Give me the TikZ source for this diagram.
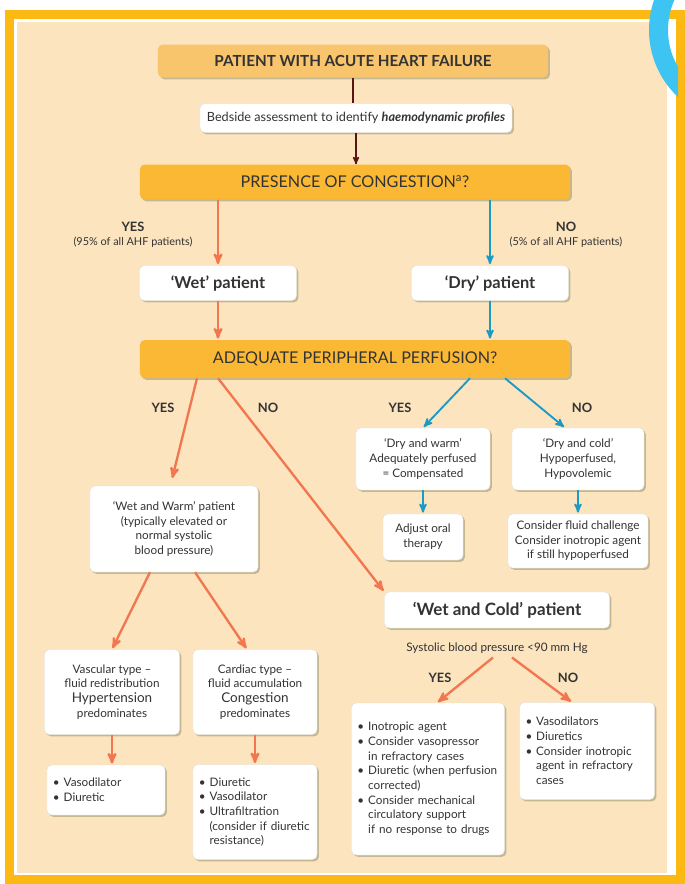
\documentclass[tikz,border=0pt]{standalone}
\usepackage{fontspec}
\setmainfont{Lato}
\usetikzlibrary{arrows,shadows,calc}

\definecolor{frameyellow}{HTML}{FDB913}
\definecolor{peach}{HTML}{FCE4BF}
\definecolor{headfill}{HTML}{F8C46C}
\definecolor{askfill}{HTML}{FBB834}
\definecolor{wetred}{HTML}{F2774F}
\definecolor{dryblue}{HTML}{1B9AC6}
\definecolor{darkline}{HTML}{5B1414}
\definecolor{txt}{HTML}{333333}
\definecolor{arcblue}{HTML}{3EC4F2}

\newcommand{\bul}{\textbullet\ }
\newcommand{\cnt}{\hphantom{\textbullet\ }}

\begin{document}
\begin{tikzpicture}[x=0.03cm,y=-0.03cm,>=stealth',
  every node/.style={text=txt,font=\fontsize{10}{12.5}\selectfont},
  box/.style={rounded corners=4pt,align=center,inner sep=2pt,
    drop shadow={shadow xshift=1.6pt,shadow yshift=-1.6pt,opacity=.5,fill=gray!70!olive}},
  head node/.style={box,fill=headfill,font=\bfseries\fontsize{13}{15}\selectfont},
  ask node/.style={box,fill=askfill,font=\fontsize{13.8}{16}\selectfont},
  info node/.style={box,fill=white,draw=black!12,line width=.4pt},
  patient node/.style={info node,font=\bfseries\fontsize{14}{16}\selectfont},
  list node/.style={info node,align=left,inner xsep=0.18cm},
  lbl/.style={align=center,font=\bfseries\fontsize{11}{13}\selectfont},
  sub lbl/.style={align=center,font=\fontsize{9.3}{12}\selectfont},
  wet line/.style={->,wetred,line width=2pt,shorten >=1pt},
  dry line/.style={->,dryblue,line width=1.6pt,shorten >=1pt},
  dark line/.style={darkline,line width=1.2pt}]

  % frame
  \fill[white] (0,0) rectangle (678,884);
  \draw[frameyellow,line width=0.27cm] (9.5,14.5) rectangle (680,879.5);
  \fill[peach] (17,22) rectangle (667,873);
  \begin{scope}
    \clip (0,0) rectangle (678,884);
    \draw[arcblue,line width=0.57cm] (741,30) circle[radius=82.5];
  \end{scope}
  \useasboundingbox (0,0) rectangle (678,884);

  \node[head node,minimum width=11.7cm,minimum height=0.99cm] (heart) at (353,61) {PATIENT WITH ACUTE HEART FAILURE};
  \node[info node,minimum width=9.36cm,minimum height=0.87cm,font=\fontsize{10.8}{12.5}\selectfont] (bedside) at (356,118)
    {Bedside assessment to identify \textbf{\textit{haemodynamic profiles}}};
  \node[ask node,minimum width=12.9cm,minimum height=1.05cm] (congestion) at (355,182) {PRESENCE OF CONGESTION\textsuperscript{a}?};

  \node[lbl] (yescong) at (133,227) {YES};
  \node[sub lbl] (yespct) at (133,242) {(95\% of all AHF patients)};
  \node[lbl] (nocong) at (566,227) {NO};
  \node[sub lbl] (nopct) at (566,242) {(5\% of all AHF patients)};

  \node[patient node,minimum width=4.71cm,minimum height=1.05cm] (wet) at (218,283) {‘Wet’ patient};
  \node[patient node,minimum width=4.71cm,minimum height=1.05cm] (dry) at (490,283) {‘Dry’ patient};
  \node[ask node,minimum width=12.9cm,minimum height=1.14cm] (perfusion) at (355,359) {ADEQUATE PERIPHERAL PERFUSION?};

  \node[lbl] (yeswarm) at (163,408) {YES};
  \node[lbl] (nowarm) at (268,408) {NO};
  \node[lbl] (yesdry) at (400,408) {YES};
  \node[lbl] (nodry) at (582,408) {NO};

  \node[info node,minimum width=4.02cm,minimum height=1.86cm] (drywarm) at (423,459)
    {‘Dry and warm’\\Adequately perfused\\= Compensated};
  \node[info node,minimum width=3.96cm,minimum height=1.86cm] (drycold) at (578,459)
    {‘Dry and cold’\\Hypoperfused,\\Hypovolemic};
  \node[info node,minimum width=2.4cm,minimum height=1.38cm] (oral) at (423,537) {Adjust oral\\therapy};
  \node[info node,minimum width=4.2cm,minimum height=1.62cm] (fluid) at (578,541)
    {Consider fluid challenge\\Consider inotropic agent\\if still hypoperfused};

  \node[info node,minimum width=5.04cm,minimum height=2.58cm] (wetwarm) at (174,529)
    {‘Wet and Warm’ patient\\(typically elevated or\\normal systolic\\blood pressure)};
  \node[info node,minimum width=4.05cm,minimum height=2.55cm] (vascular) at (112,692)
    {Vascular type --\\fluid redistribution\\{\fontsize{11.5}{13}\selectfont Hypertension}\\predominates};
  \node[info node,minimum width=3.72cm,minimum height=2.55cm] (cardiac) at (255,692)
    {Cardiac type --\\fluid accumulation\\{\fontsize{11.5}{13}\selectfont Congestion}\\predominates};
  \node[list node,text width=3.18cm,minimum height=1.5cm] (vascrx) at (106,790)
    {\bul Vasodilator\\\bul Diuretic};
  \node[list node,text width=3.36cm,minimum height=2.85cm] (cardrx) at (255,812)
    {\bul Diuretic\\\bul Vasodilator\\\bul Ultrafiltration\\\cnt(consider if diuretic\\\cnt resistance)};

  \node[patient node,minimum width=6.75cm,minimum height=1.08cm,font=\bfseries\fontsize{14.5}{16}\selectfont] (wetcold) at (497,610)
    {‘Wet and Cold’ patient};
  \node (sbp) at (497,648) {Systolic blood pressure <90 mm Hg};
  \node[lbl] (yescold) at (440,678) {YES};
  \node[lbl] (nocold) at (568,678) {NO};
  \node[list node,text width=4.23cm,minimum height=4.56cm] (coldyes) at (428,779)
    {\bul Inotropic agent\\\bul Consider vasopressor\\\cnt in refractory cases\\\bul Diuretic (when perfusion\\\cnt corrected)\\\bul Consider mechanical\\\cnt circulatory support\\\cnt if no response to drugs};
  \node[list node,text width=3.69cm,minimum height=2.91cm] (coldno) at (587,751)
    {\bul Vasodilators\\\bul Diuretics\\\bul Consider inotropic\\\cnt agent in refractory\\\cnt cases};

  \draw[dark line] (heart.south) -- (heart.south |- bedside.north);
  \draw[dark line,->] (bedside.south) -- (bedside.south |- congestion.north);

  \path[wet line] (congestion.south -| wet.north) edge (wet.north)
    (wet.south) edge (wet.south |- perfusion.north)
    ([xshift=-4.74cm]perfusion.south) edge ([xshift=-0.06cm,yshift=0.2cm]wetwarm.north)
    ([xshift=-4.11cm]perfusion.south) edge (wetcold.north west)
    ([xshift=-0.72cm]wetwarm.south) edge (vascular.north)
    ([xshift=0.63cm]wetwarm.south) edge ([xshift=-0.24cm]cardiac.north)
    (vascular.south) edge (vascular.south |- vascrx.north)
    (cardiac.south) edge (cardiac.south |- cardrx.north)
    ([xshift=-0.12cm]sbp.south) edge ([xshift=0.27cm]coldyes.north)
    ([xshift=0.45cm]sbp.south) edge ([xshift=-0.45cm]coldno.north);

  \path[dry line] (congestion.south -| dry.north) edge (dry.north)
    (dry.south) edge (dry.south |- perfusion.north)
    ([xshift=3.45cm]perfusion.south) edge (drywarm.north)
    ([xshift=4.5cm]perfusion.south) edge ([xshift=-0.39cm]drycold.north)
    (drywarm.south) edge (drywarm.south |- oral.north)
    (drycold.south) edge (drycold.south |- fluid.north);
\end{tikzpicture}
\end{document}
